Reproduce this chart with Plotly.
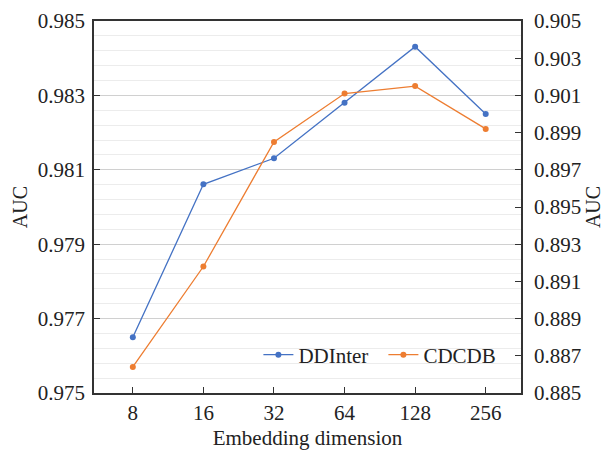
import plotly.graph_objects as go

dims = ["8", "16", "32", "64", "128", "256"]
ddinter_auc = [0.9765, 0.98061, 0.98131, 0.9828, 0.98431, 0.9825]
cdcdb_auc = [0.8864, 0.8918, 0.8985, 0.9011, 0.9015, 0.8992]
left_ticks = [0.975, 0.977, 0.979, 0.981, 0.983, 0.985]
right_ticks = [0.885, 0.887, 0.889, 0.891, 0.893, 0.895, 0.897, 0.899, 0.901, 0.903, 0.905]

FONT = "Liberation Serif"
AX = "#333333"
FS = 21

fig = go.Figure()
fig.add_trace(go.Scatter(x=dims, y=ddinter_auc, name="DDInter", mode="lines+markers",
                         line=dict(color="#4472C4", width=1.3),
                         marker=dict(color="#4472C4", size=6)))
fig.add_trace(go.Scatter(x=dims, y=cdcdb_auc, name="CDCDB", mode="lines+markers",
                         line=dict(color="#ED7D31", width=1.3),
                         marker=dict(color="#ED7D31", size=6), yaxis="y2"))

fig.update_layout(
    width=604, height=450,
    margin=dict(l=94, r=83, t=21, b=57, autoexpand=False),
    plot_bgcolor="white", paper_bgcolor="white",
    font=dict(family=FONT, size=FS, color="#222"),
    showlegend=True,
    legend=dict(orientation="h", x=0.385, y=0.102, xanchor="left", yanchor="middle",
                bgcolor="rgba(0,0,0,0)", font=dict(size=FS, family=FONT),
                entrywidth=80, entrywidthmode="pixels"),
    xaxis=dict(type="category", range=[-0.55, 5.5], showline=True, linecolor=AX, linewidth=1.5,
               mirror=True, ticks="inside", ticklen=6, tickcolor=AX, showgrid=False,
               automargin=False, tickfont=dict(size=FS, family=FONT),
               title=dict(text="Embedding dimension", font=dict(size=FS, family=FONT), standoff=10)),
    yaxis=dict(range=[0.975, 0.985], tickvals=left_ticks, ticktext=[f"{v:.3f}" for v in left_ticks],
               showline=True, linecolor=AX, linewidth=1.5, ticks="inside", ticklen=6, tickcolor=AX,
               showgrid=True, gridcolor="#d0d0d0", gridwidth=1, zeroline=False, automargin=False,
               minor=dict(dtick=0.0004, tick0=0.975, showgrid=True, gridcolor="#ececec", gridwidth=1),
               tickfont=dict(size=FS, family=FONT), ticklabelstandoff=3,
               title=dict(text="AUC", font=dict(size=20, family=FONT), standoff=5)),
    yaxis2=dict(range=[0.885, 0.905], tickvals=right_ticks, ticktext=[f"{v:.3f}" for v in right_ticks],
                overlaying="y", side="right", showline=True, linecolor=AX, linewidth=1.5,
                ticks="inside", ticklen=6, tickcolor=AX, showgrid=False, zeroline=False,
                automargin=False, tickfont=dict(size=FS, family=FONT), ticklabelstandoff=7,
                title=dict(text="AUC", font=dict(size=20, family=FONT), standoff=8)),
)

fig.write_html("out.html", config={"displayModeBar": False},
               post_script="document.body.style.margin='0';")
